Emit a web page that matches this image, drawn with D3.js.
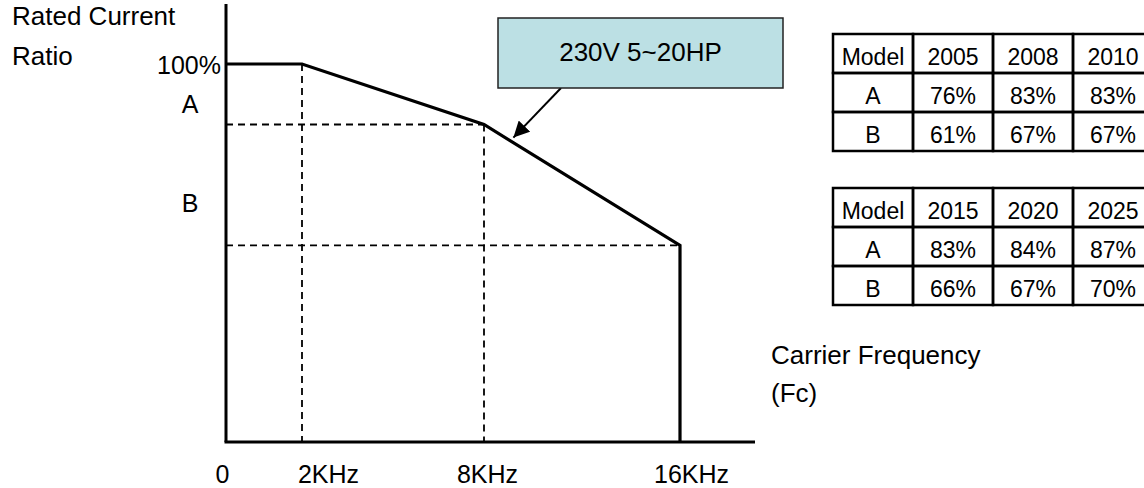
<!DOCTYPE html>
<html>
<head>
<meta charset="utf-8">
<script src="https://cdn.jsdelivr.net/npm/d3@7"></script>
<style>
  html, body { margin: 0; padding: 0; background: #fff; }
  svg { display: block; font-family: "Liberation Sans", Arial, sans-serif; }
</style>
</head>
<body>
<svg id="chart" width="1144" height="488"></svg>
<script>
// ---------- data ----------
const freqTicks = [0, 2, 8, 16];
const freqTickLabels = ["0", "2KHz", "8KHz", "16KHz"];
const curveFreq = [0, 2, 8, 16, 16];
const curveRatio = [100, 100, 84, 52, 0];
const levelNames = ["100%", "A", "B"];
const levelValues = [100, 84, 52];
const annotationText = "230V 5~20HP";
const annotationFreq = 9.2;

const tableHeader = "Model";
const rowNames = ["A", "B"];
const years1 = ["2005", "2008", "2010"];
const valuesA1 = ["76%", "83%", "83%"];
const valuesB1 = ["61%", "67%", "67%"];
const years2 = ["2015", "2020", "2025"];
const valuesA2 = ["83%", "84%", "87%"];
const valuesB2 = ["66%", "67%", "70%"];

const yTitleLines = ["Rated Current", "Ratio"];
const xTitleLines = ["Carrier Frequency", "(Fc)"];

// ---------- layout ----------
const svg = d3.select("#chart");
const x = d3.scaleLinear().domain(freqTicks).range([226, 302, 484, 680]);
const y = d3.scaleLinear().domain([0, 100]).range([442, 64]);
const axisTop = 4, axisRight = 755;
const font = 26;

// dashed guides
const guides = svg.append("g").attr("stroke", "#000").attr("stroke-width", 1.8)
  .attr("stroke-dasharray", "7,5").attr("fill", "none");
[[2, 100], [8, 84]].forEach(([f, r]) => {
  guides.append("line").attr("x1", x(f)).attr("x2", x(f)).attr("y1", y(r)).attr("y2", y(0));
});
[[84, 8], [52, 16]].forEach(([r, f]) => {
  guides.append("line").attr("x1", x(0)).attr("x2", x(f)).attr("y1", y(r)).attr("y2", y(r));
});

// axes lines
svg.append("line").attr("x1", x(0)).attr("x2", x(0)).attr("y1", axisTop).attr("y2", y(0))
  .attr("stroke", "#000").attr("stroke-width", 3);
svg.append("line").attr("x1", x(0) - 1.5).attr("x2", axisRight).attr("y1", y(0)).attr("y2", y(0))
  .attr("stroke", "#000").attr("stroke-width", 3);

// curve
const pts = curveFreq.map((f, i) => [f, curveRatio[i]]);
svg.append("path")
  .attr("d", d3.line().x(d => x(d[0])).y(d => y(d[1]))(pts))
  .attr("fill", "none").attr("stroke", "#000").attr("stroke-width", 3.2)
  .attr("stroke-linejoin", "miter");

// x tick labels via d3 axis
const tickLabelDx = [-4, 26, 3, 11];
const xAxis = d3.axisBottom(x).tickValues(freqTicks)
  .tickFormat((d, i) => freqTickLabels[i]).tickSize(0).tickPadding(23);
const gx = svg.append("g").attr("transform", `translate(0,${y(0)})`).call(xAxis);
gx.select(".domain").remove();
gx.selectAll("text").attr("font-size", 25).attr("fill", "#000")
  .attr("font-family", "'Liberation Sans', Arial, sans-serif")
  .attr("dx", (d, i) => tickLabelDx[i]);

// y level labels
const levelNudge = [10, -11, -33];
const levelAnchor = ["end", "middle", "middle"];
const levelX = [221, 190, 190];
svg.append("g").selectAll("text").data(levelNames).join("text")
  .attr("x", (d, i) => levelX[i])
  .attr("y", (d, i) => y(levelValues[i]) + levelNudge[i])
  .attr("text-anchor", (d, i) => levelAnchor[i])
  .attr("font-size", 25).text(d => d);

// axis titles
svg.append("g").selectAll("text").data(yTitleLines).join("text")
  .attr("x", 12).attr("y", (d, i) => 25 + i * 40).attr("font-size", font).text(d => d);
svg.append("g").selectAll("text").data(xTitleLines).join("text")
  .attr("x", 771).attr("y", (d, i) => 364 + i * 38).attr("font-size", font).text(d => d);

// annotation box + arrow
const box = { x: 498, y: 18, w: 285, h: 70 };
svg.append("defs").append("marker")
  .attr("id", "arrowhead").attr("viewBox", "0 0 10 10").attr("refX", 10).attr("refY", 5)
  .attr("markerWidth", 8).attr("markerHeight", 8).attr("markerUnits", "strokeWidth")
  .attr("orient", "auto")
  .append("path").attr("d", "M0,0 L10,5 L0,10 z").attr("fill", "#000");
const tipX = x(annotationFreq);
const lineAt = d3.scaleLinear().domain([8, 16]).range([84, 52]);
const tipY = y(lineAt(annotationFreq)) - 5;
svg.append("line").attr("x1", 561).attr("y1", box.y + box.h).attr("x2", tipX).attr("y2", tipY)
  .attr("stroke", "#000").attr("stroke-width", 2).attr("marker-end", "url(#arrowhead)");
svg.append("rect").attr("x", box.x).attr("y", box.y).attr("width", box.w).attr("height", box.h)
  .attr("fill", "#bce0e4").attr("stroke", "#222").attr("stroke-width", 1.5);
svg.append("text").attr("x", box.x + box.w / 2).attr("y", 61).attr("text-anchor", "middle")
  .attr("font-size", font).text(annotationText);

// tables
function drawTable(top, years, va, vb) {
  const left = 833, colW = 80, rowH = 39;
  const rows = [[tableHeader, ...years], [rowNames[0], ...va], [rowNames[1], ...vb]];
  const g = svg.append("g");
  rows.forEach((row, ri) => {
    row.forEach((cell, ci) => {
      g.append("rect").attr("x", left + ci * colW).attr("y", top + ri * rowH)
        .attr("width", colW).attr("height", rowH)
        .attr("fill", "none").attr("stroke", "#000").attr("stroke-width", 2.5);
      g.append("text").attr("x", left + ci * colW + colW / 2).attr("y", top + ri * rowH + 31)
        .attr("text-anchor", "middle").attr("font-size", 23).text(cell);
    });
  });
}
drawTable(34, years1, valuesA1, valuesB1);
drawTable(188, years2, valuesA2, valuesB2);
</script>
</body>
</html>
